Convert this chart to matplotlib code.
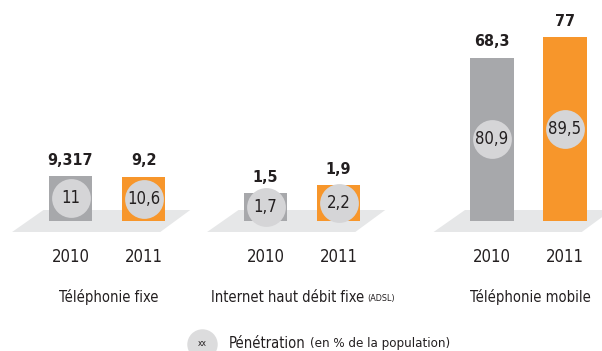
import matplotlib.pyplot as plt
from matplotlib.patches import Polygon
from matplotlib.transforms import blended_transform_factory

# Données : abonnés (en millions) et taux de pénétration (en %)
groupes = ['Téléphonie fixe', 'Internet haut débit fixe', 'Téléphonie mobile']
annees = ['2010', '2011']
abonnes_2010 = [9.317, 1.5, 68.3]
abonnes_2011 = [9.2, 1.9, 77]
labels_2010 = ['9,317', '1,5', '68,3']
labels_2011 = ['9,2', '1,9', '77']
penetration_2010 = ['11', '1,7', '80,9']
penetration_2011 = ['10,6', '2,2', '89,5']
# haut de l'échelle de chaque groupe (chaque bloc a sa propre échelle)
ymax_groupes = [45.7, 11.8, 92.5]

GRIS = '#a7a8ab'
ORANGE = '#f7962b'
SOL = '#e6e7e8'
ROND = '#d5d5d7'
TEXTE = '#231f20'

plt.rcParams['font.family'] = ['DejaVu Sans']
plt.rcParams['font.stretch'] = 'condensed'

W, H = 602, 351
fig = plt.figure(figsize=(W / 100, H / 100), dpi=100)

base_y = 221          # ligne de base des barres (px depuis le haut)
pas = 73.0            # écart entre les deux barres (px)
centres_2010 = [70.5, 265.5, 492]
xmin, xmax = -0.9, 1.9

for i in range(3):
    left = centres_2010[i] + xmin * pas
    ax = fig.add_axes([left / W, (H - base_y) / H, (xmax - xmin) * pas / W, base_y / H])
    ax.set_xlim(xmin, xmax)
    ax.set_ylim(0, ymax_groupes[i])
    ax.axis('off')

    # sol en parallélogramme
    tr = blended_transform_factory(ax.transData, ax.transAxes)
    dy = 11 / base_y
    sol = Polygon([(-0.8, -dy), (1.23, -dy), (1.64, dy), (-0.37, dy)],
                  closed=True, transform=tr, facecolor=SOL, edgecolor='none',
                  clip_on=False, zorder=0)
    ax.add_patch(sol)

    vals = [abonnes_2010[i], abonnes_2011[i]]
    ax.bar([0, 1], vals, width=0.59, color=[GRIS, ORANGE], zorder=2, clip_on=False)

    for x, v, lab, pen in zip([0, 1], vals, [labels_2010[i], labels_2011[i]],
                              [penetration_2010[i], penetration_2011[i]]):
        ax.annotate(lab, (x, v), xytext=(0, 6), textcoords='offset points',
                    ha='center', va='bottom', fontsize=11.5, fontweight='bold',
                    color=TEXTE, annotation_clip=False)
        ax.scatter([x], [v / 2], s=780, color=ROND, zorder=3, clip_on=False,
                   linewidths=0)
        ax.text(x, v / 2, pen, ha='center', va='center', fontsize=12,
                color=TEXTE, zorder=4)

    for x, an in zip([0, 1], annees):
        ax.text(x, -36 / base_y, an, transform=tr, ha='center', va='center',
                fontsize=12, color=TEXTE)

    if i == 1:
        t = ax.text(-0.74, -76 / base_y, 'Internet haut débit fixe', transform=tr,
                    ha='left', va='center', fontsize=10.5, color=TEXTE)
        ax.annotate('(ADSL)', xy=(1, 0), xycoords=t, xytext=(2, 1),
                    textcoords='offset points', ha='left', va='bottom',
                    fontsize=6.5, color=TEXTE)
    else:
        ax.text(0.52, -76 / base_y, groupes[i], transform=tr, ha='center',
                va='center', fontsize=10.5, color=TEXTE)

# légende
leg = fig.add_axes([0, 0, 1, 1], facecolor='none')
leg.axis('off')
leg.set_xlim(0, W)
leg.set_ylim(H, 0)
leg.scatter([202], [344], s=480, color='#dcdcdd', linewidths=0, clip_on=False)
leg.text(202, 344, 'xx', ha='center', va='center', fontsize=6, color=TEXTE)
t = leg.text(229, 343, 'Pénétration', ha='left', va='center', fontsize=10.5,
             color=TEXTE)
leg.annotate('(en % de la population)', xy=(1, 0), xycoords=t,
             xytext=(3, 0.5), textcoords='offset points', ha='left',
             va='bottom', fontsize=9.5, color=TEXTE)

fig.savefig('out.png', dpi=100)
